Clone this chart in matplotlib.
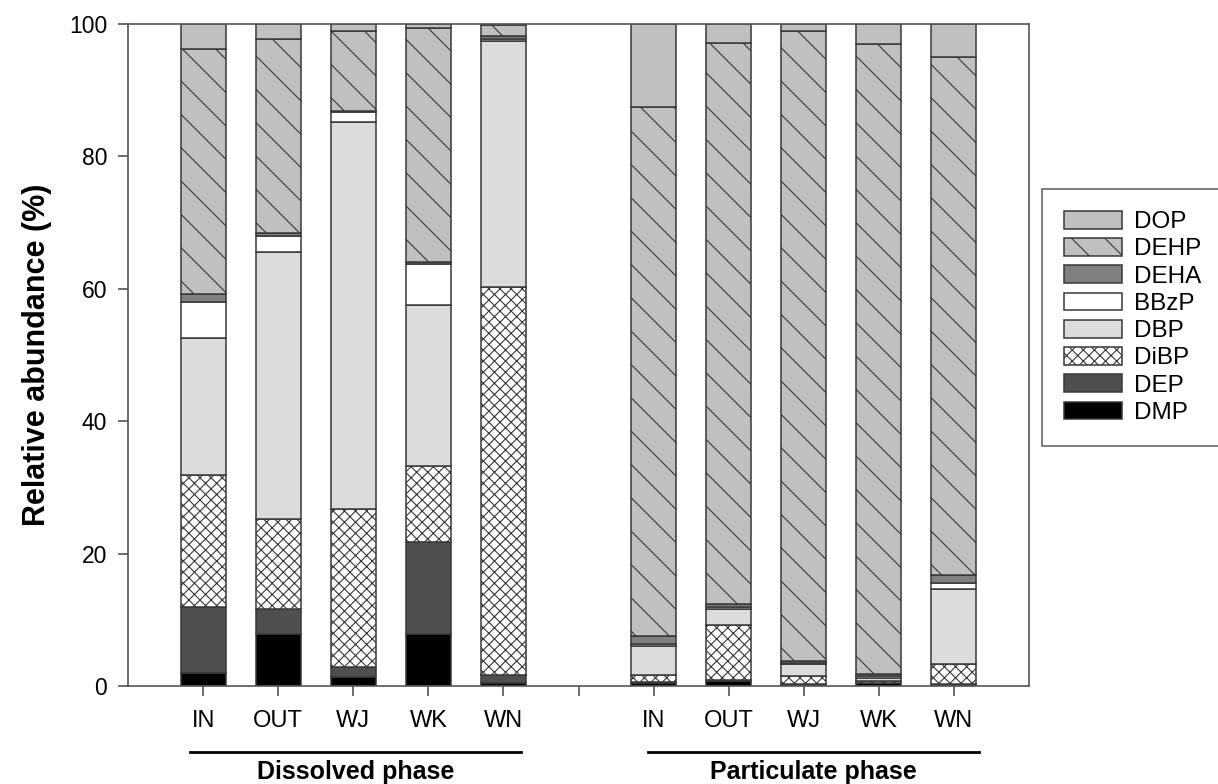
import numpy as np
import matplotlib
matplotlib.use("Agg")
from matplotlib import pyplot as plt

plt.rcParams['font.family'] = ['Liberation Sans', 'DejaVu Sans']
plt.rcParams['hatch.linewidth'] = 0.8

# sites and phases
sites = ['IN', 'OUT', 'WJ', 'WK', 'WN']
groups = ['Dissolved phase', 'Particulate phase']
compounds = ['DMP', 'DEP', 'DiBP', 'DBP', 'BBzP', 'DEHA', 'DEHP', 'DOP']

# relative abundance (%) per compound, IN..WN
dissolved = {
    'DMP':  [2.0, 7.9, 1.4, 7.9, 0.4],
    'DEP':  [10.0, 3.7, 1.4, 13.9, 1.3],
    'DiBP': [19.9, 13.7, 23.9, 11.5, 58.6],
    'DBP':  [20.6, 40.3, 58.5, 24.2, 37.2],
    'BBzP': [5.5, 2.4, 1.5, 6.3, 0.3],
    'DEHA': [1.2, 0.4, 0.2, 0.2, 0.4],
    'DEHP': [37.0, 29.4, 12.1, 35.4, 1.6],
    'DOP':  [3.8, 2.2, 1.0, 0.6, 0.2],
}
particulate = {
    'DMP':  [0.5, 0.8, 0.2, 0.4, 0.2],
    'DEP':  [0.1, 0.1, 0.1, 0.1, 0.1],
    'DiBP': [1.1, 8.3, 1.2, 0.2, 3.0],
    'DBP':  [4.3, 2.5, 1.8, 0.5, 11.3],
    'BBzP': [0.4, 0.2, 0.2, 0.3, 1.0],
    'DEHA': [1.2, 0.5, 0.3, 0.3, 1.2],
    'DEHP': [79.8, 84.8, 95.2, 95.2, 78.2],
    'DOP':  [12.6, 2.8, 1.0, 3.0, 5.0],
}

styles = {
    'DMP':  dict(color='#000000', hatch=None),
    'DEP':  dict(color='#4f4f4f', hatch=None),
    'DiBP': dict(color='#ffffff', hatch='xxx'),
    'DBP':  dict(color='#dcdcdc', hatch=None),
    'BBzP': dict(color='#ffffff', hatch=None),
    'DEHA': dict(color='#808080', hatch=None),
    'DEHP': dict(color='#c0c0c0', hatch='\\'),
    'DOP':  dict(color='#c0c0c0', hatch=None),
}

fig = plt.figure(figsize=(12.18, 7.84), dpi=100)
ax = fig.add_axes([128/1218, 1-686/784, (1029-128)/1218, (686-24)/784])

pos_d = np.arange(5)
pos_p = np.arange(5) + 6
w = 0.6

handles = {}
for pos, data in [(pos_d, dissolved), (pos_p, particulate)]:
    bottom = np.zeros(5)
    for c in compounds:
        vals = np.array(data[c])
        b = ax.bar(pos, vals, w, bottom=bottom, color=styles[c]['color'],
                   hatch=styles[c]['hatch'], edgecolor='#383838', linewidth=1.1,
                   label=c)
        handles[c] = b
        bottom += vals

ax.set_xlim(-1, 11)
ax.set_ylim(0, 100)
ax.set_yticks(np.arange(0, 101, 20))
ticks = list(pos_d) + [5] + list(pos_p)
ax.set_xticks(ticks)
ax.set_xticklabels(sites + [''] + sites)
ax.tick_params(axis='both', direction='out', length=7, width=1.1, color='#444444',
               labelsize=16.5)
ax.tick_params(axis='x', pad=10, labelsize=17)
ax.tick_params(axis='y', pad=8)
for s in ax.spines.values():
    s.set_color('#555555')
    s.set_linewidth(1.2)

ax.set_ylabel('Relative abundance (%)', fontsize=22, fontweight='bold', labelpad=12)

# group brackets under the tick labels
trans = ax.get_xaxis_transform()
for (x0, x1), g in zip([(-0.17, 4.24), (5.92, 10.33)], groups):
    ax.plot([x0, x1], [-0.0997, -0.0997], color='black', lw=2, transform=trans, clip_on=False)
    ax.text((x0 + x1) / 2, -0.1480, g, transform=trans, ha='center', va='bottom',
            fontsize=18, fontweight='bold')

order = compounds[::-1]
leg = fig.legend([handles[c] for c in order], order, loc='upper left',
                 bbox_to_anchor=(1042/1218, 1-189/784), fontsize=17.5,
                 frameon=True, fancybox=False, edgecolor='#333333',
                 handlelength=2.4, handleheight=0.75, labelspacing=0.2,
                 handletextpad=0.5, borderpad=0.9, borderaxespad=0)
leg.get_frame().set_linewidth(1.1)

fig.savefig('out.png', dpi=100)
